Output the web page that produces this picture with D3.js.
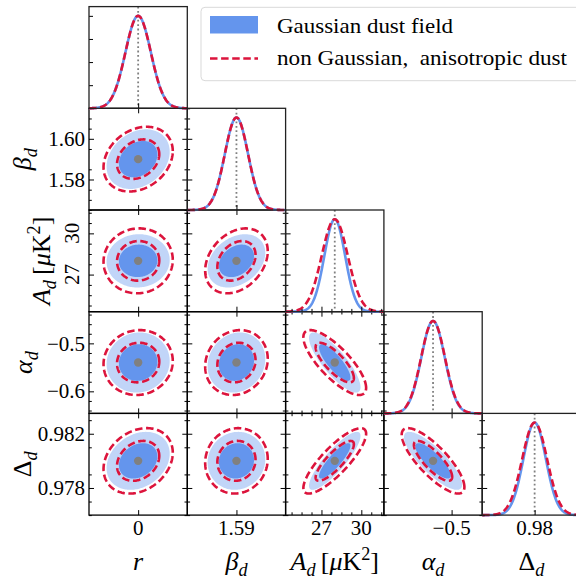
<!DOCTYPE html>
<html><head><meta charset="utf-8">
<script src="https://cdn.jsdelivr.net/npm/d3@7"></script>
<style>
html,body{margin:0;padding:0;background:#fff;}
svg{display:block;font-family:"Liberation Serif","DejaVu Serif",serif;}
</style></head><body>
<svg id="chart" width="576" height="581"></svg>
<script>
// ---- parameters of the forecast ----
const paramNames   = ["r", "beta_d", "A_d", "alpha_d", "Delta_d"];
const fiducial     = [0, 1.59, 28, -0.54, 0.98];
const domainLo     = [-0.012, 1.565, 24.3, -0.646, 0.976];
const domainHi     = [ 0.012, 1.615, 31.7, -0.434, 0.9835];
// 1-sigma widths: Gaussian dust field
const sigmaGauss   = [0.0031, 0.0059, 0.78, 0.0252, 0.00086];
// 1-sigma widths: non Gaussian, anisotropic dust (1D marginals and 2D contours)
const sigmaNG1D    = [0.0031, 0.0059, 0.98, 0.0256, 0.00095];
const sigmaNG2D    = [0.0034, 0.0064, 0.95, 0.0272, 0.00097];
// correlation coefficients for each lower-triangle pair (row param, col param)
const pairRow      = [1, 2, 2, 3, 3, 3, 4, 4, 4, 4];
const pairCol      = [0, 0, 1, 0, 1, 2, 0, 1, 2, 3];
const rhoGauss     = [0.25, 0.03, 0.30, 0.05, 0.12, -0.82, 0.25, 0.06, 0.86, -0.82];
const rhoNG        = [0.25, 0.03, 0.30, 0.05, 0.12, -0.78, 0.25, 0.06, 0.83, -0.80];
// ticks
const xTickValues  = [[0], [1.59], [27, 30], [-0.5], [0.98]];
const xTickText    = [["0"], ["1.59"], ["27", "30"], ["\u22120.5"], ["0.98"]];
const yTickValues  = [[], [1.58, 1.60], [27, 30], [-0.6, -0.5], [0.978, 0.982]];
const yTickText    = [[], ["1.58", "1.60"], ["27", "30"], ["\u22120.6", "\u22120.5"], ["0.978", "0.982"]];
const minorStep    = [null, 0.005, 0.75, 0.02, 0.001];
const densityTicks = [0.25, 0.5, 0.75, 1.0];
// 2D confidence levels (delta chi^2 for 68% and 95%)
const levels       = [2.30, 6.18];
const legendLabels = ["Gaussian dust field", "non Gaussian,\u2002anisotropic dust"];

// ---- style ----
const C_DARK = "#6495ED", C_LIGHT = "#c1d5f8", C_RED = "#DC143C", C_GREY = "#808080";

// ---- layout ----
const plotLeft = 89, plotTop = 6.6, cw = 98.3, ch = 101.7;

const svg = d3.select("#chart");

const xs = paramNames.map((_, i) => d3.scaleLinear().domain([domainLo[i], domainHi[i]]).range([plotLeft + i * cw, plotLeft + (i + 1) * cw]));
const ys = paramNames.map((_, j) => d3.scaleLinear().domain([domainLo[j], domainHi[j]]).range([plotTop + (j + 1) * ch, plotTop + j * ch]));

function minorTicks(i) {
  if (minorStep[i] == null) return [];
  const s = minorStep[i];
  const a = Math.ceil(domainLo[i] / s - 1e-9), b = Math.floor(domainHi[i] / s + 1e-9);
  const out = [];
  for (let k = a; k <= b; k++) {
    const v = +(k * s).toFixed(6);
    if (!yTickValues[i].some(t => Math.abs(t - v) < s * 1e-3) && !xTickValues[i].some(t => Math.abs(t - v) < s * 1e-3)) out.push(v);
  }
  return out;
}

function drawTicks(g, axisFn, scale, values, size, tx, ty) {
  g.append("g").attr("transform", `translate(${tx},${ty})`)
    .call(axisFn(scale).tickValues(values).tickSize(size).tickFormat(""))
    .call(a => a.select(".domain").remove())
    .call(a => a.selectAll("line").attr("stroke", "#000").attr("stroke-width", 1));
}

function ellipsePoints(mx, my, sx, sy, rho, k) {
  const t = d3.range(0, 2 * Math.PI, Math.PI / 90);
  const r = Math.sqrt(k);
  return t.map(a => [mx + r * sx * Math.cos(a), my + r * (rho * sy * Math.cos(a) + sy * Math.sqrt(1 - rho * rho) * Math.sin(a))]);
}

function gaussian(mu, s) { return x => Math.exp(-0.5 * ((x - mu) / s) ** 2); }

// ---- 2D panels ----
pairRow.forEach((j, p) => {
  const i = pairCol[p];
  const x = xs[i], y = ys[j];
  const g = svg.append("g");
  const clipId = `clip-${i}-${j}`;
  svg.append("clipPath").attr("id", clipId).append("rect")
    .attr("x", x.range()[0]).attr("y", y.range()[1]).attr("width", cw).attr("height", ch);
  const body = g.append("g").attr("clip-path", `url(#${clipId})`);
  const line = d3.line().x(d => x(d[0])).y(d => y(d[1])).curve(d3.curveLinearClosed);
  body.append("path").attr("d", line(ellipsePoints(fiducial[i], fiducial[j], sigmaGauss[i], sigmaGauss[j], rhoGauss[p], levels[1])))
    .attr("fill", C_LIGHT);
  body.append("path").attr("d", line(ellipsePoints(fiducial[i], fiducial[j], sigmaGauss[i], sigmaGauss[j], rhoGauss[p], levels[0])))
    .attr("fill", C_DARK);
  levels.forEach(k => {
    body.append("path").attr("d", line(ellipsePoints(fiducial[i], fiducial[j], sigmaNG2D[i], sigmaNG2D[j], rhoNG[p], k)))
      .attr("fill", "none").attr("stroke", C_RED).attr("stroke-width", 2.6).attr("stroke-dasharray", "7.5,3.6");
  });
  body.append("circle").attr("cx", x(fiducial[i])).attr("cy", y(fiducial[j])).attr("r", 4.2).attr("fill", C_GREY);
  const x0 = x.range()[0], x1 = x.range()[1], y0 = y.range()[1], y1 = y.range()[0];
  const xmin = minorTicks(i);
  const ymin = minorTicks(j);
  drawTicks(g, d3.axisBottom, x, xTickValues[i], -5, 0, y1);
  drawTicks(g, d3.axisTop, x, xTickValues[i], -5, 0, y0);
  drawTicks(g, d3.axisLeft, y, yTickValues[j], -5, x0, 0);
  drawTicks(g, d3.axisRight, y, yTickValues[j], -5, x1, 0);
  if (xTickValues[i].length > 1) {
    drawTicks(g, d3.axisBottom, x, xmin, -2.8, 0, y1);
    drawTicks(g, d3.axisTop, x, xmin, -2.8, 0, y0);
  }
  if (yTickValues[j].length > 1) {
    drawTicks(g, d3.axisLeft, y, ymin, -2.8, x0, 0);
    drawTicks(g, d3.axisRight, y, ymin, -2.8, x1, 0);
  }
  g.append("rect").attr("x", x0).attr("y", y0).attr("width", cw).attr("height", ch)
    .attr("fill", "none").attr("stroke", "#000").attr("stroke-width", 1.3);
});

// ---- 1D marginals ----
paramNames.forEach((_, i) => {
  const x = xs[i];
  const y = d3.scaleLinear().domain([0, 1.1]).range([plotTop + (i + 1) * ch, plotTop + i * ch]);
  const g = svg.append("g");
  const grid = d3.range(domainLo[i], domainHi[i] + 1e-12, (domainHi[i] - domainLo[i]) / 300);
  const line = d3.line().x(d => x(d[0])).y(d => y(d[1]));
  const x0 = x.range()[0], y0 = y.range()[1], y1 = y.range()[0];
  g.append("line").attr("x1", x(fiducial[i])).attr("x2", x(fiducial[i])).attr("y1", y0).attr("y2", y1)
    .attr("stroke", C_GREY).attr("stroke-width", 1.8).attr("stroke-dasharray", "1.8,2.6");
  const fG = gaussian(fiducial[i], sigmaGauss[i]);
  const fN = gaussian(fiducial[i], sigmaNG1D[i]);
  g.append("path").attr("d", line(grid.map(v => [v, fG(v)]))).attr("fill", "none")
    .attr("stroke", C_DARK).attr("stroke-width", 2.6);
  g.append("path").attr("d", line(grid.map(v => [v, fN(v)]))).attr("fill", "none")
    .attr("stroke", C_RED).attr("stroke-width", 2.6).attr("stroke-dasharray", "7.5,3.6");
  drawTicks(g, d3.axisBottom, x, xTickValues[i], -5, 0, y1);
  if (xTickValues[i].length > 1) drawTicks(g, d3.axisBottom, x, minorTicks(i), -2.8, 0, y1);
  if (i === 0) {
    drawTicks(g, d3.axisLeft, y, densityTicks, -4, x0, 0);
  } else {
    drawTicks(g, d3.axisLeft, ys[i], yTickValues[i], -5, x0, 0);
    drawTicks(g, d3.axisLeft, ys[i], minorTicks(i), -2.8, x0, 0);
  }
  g.append("rect").attr("x", x0).attr("y", y0).attr("width", cw).attr("height", ch)
    .attr("fill", "none").attr("stroke", "#222").attr("stroke-width", 1.3);
});

// ---- math-style text helper ----
function mathText(sel, parts, size) {
  let shift = 0;
  parts.forEach(p => {
    const target = p.sub ? 0.22 * size : p.sup ? -0.38 * size : 0;
    sel.append("tspan").text(p.t)
      .attr("font-style", p.it ? "italic" : "normal")
      .attr("font-size", (p.sub || p.sup) ? size * 0.7 : size)
      .attr("dy", target - shift);
    shift = target;
  });
}

const axisLabels = [
  [{ t: "r", it: true }],
  [{ t: "\u03b2", it: true }, { t: "d", it: true, sub: true }],
  [{ t: "A", it: true }, { t: "d", it: true, sub: true }, { t: "\u2009[" }, { t: "\u03bc", it: true }, { t: "K" }, { t: "2", sup: true }, { t: "]" }],
  [{ t: "\u03b1", it: true }, { t: "d", it: true, sub: true }],
  [{ t: "\u0394" }, { t: "d", it: true, sub: true }]
];

// x tick labels and axis labels (bottom row)
paramNames.forEach((_, i) => {
  const x = xs[i];
  xTickValues[i].forEach((v, k) => {
    svg.append("text").attr("x", x(v)).attr("y", 535).attr("text-anchor", "middle")
      .attr("font-size", 21).text(xTickText[i][k]);
  });
  const t = svg.append("text").attr("x", (x.range()[0] + x.range()[1]) / 2).attr("y", 570)
    .attr("text-anchor", "middle");
  mathText(t, axisLabels[i], 26);
});

// y tick labels and axis labels (left column)
const yLabelX = [0, 31, 50, 32, 31];
paramNames.forEach((_, j) => {
  if (j === 0) return;
  const y = ys[j];
  yTickValues[j].forEach((v, k) => {
    if (j === 2) {
      svg.append("text").attr("transform", `translate(79,${y(v)}) rotate(-90)`)
        .attr("text-anchor", "middle").attr("font-size", 21).text(yTickText[j][k]);
    } else {
      svg.append("text").attr("x", 85).attr("y", y(v)).attr("dy", "0.34em")
        .attr("text-anchor", "end").attr("font-size", 21).text(yTickText[j][k]);
    }
  });
  const yc = (y.range()[0] + y.range()[1]) / 2;
  const t = svg.append("text").attr("transform", `translate(${yLabelX[j]},${yc}) rotate(-90)`)
    .attr("text-anchor", "middle");
  mathText(t, axisLabels[j], 26);
});

// ---- legend ----
const lg = svg.append("g");
lg.append("rect").attr("x", 201).attr("y", 7.3).attr("width", 390).attr("height", 73.4).attr("rx", 4)
  .attr("fill", "#fff").attr("fill-opacity", 0.8).attr("stroke", "#d9d9d9").attr("stroke-width", 1);
lg.append("rect").attr("x", 210).attr("y", 16).attr("width", 48).attr("height", 17.5).attr("fill", C_DARK);
lg.append("line").attr("x1", 210).attr("x2", 258).attr("y1", 58.5).attr("y2", 58.5)
  .attr("stroke", C_RED).attr("stroke-width", 2.6).attr("stroke-dasharray", "7.5,3.6");
lg.append("text").attr("x", 277).attr("y", 33).attr("font-size", 22).attr("textLength", 176).attr("lengthAdjust", "spacingAndGlyphs").text(legendLabels[0]);
lg.append("text").attr("x", 277).attr("y", 65).attr("font-size", 22).attr("textLength", 290).attr("lengthAdjust", "spacingAndGlyphs").text(legendLabels[1]);
</script>
</body></html>
